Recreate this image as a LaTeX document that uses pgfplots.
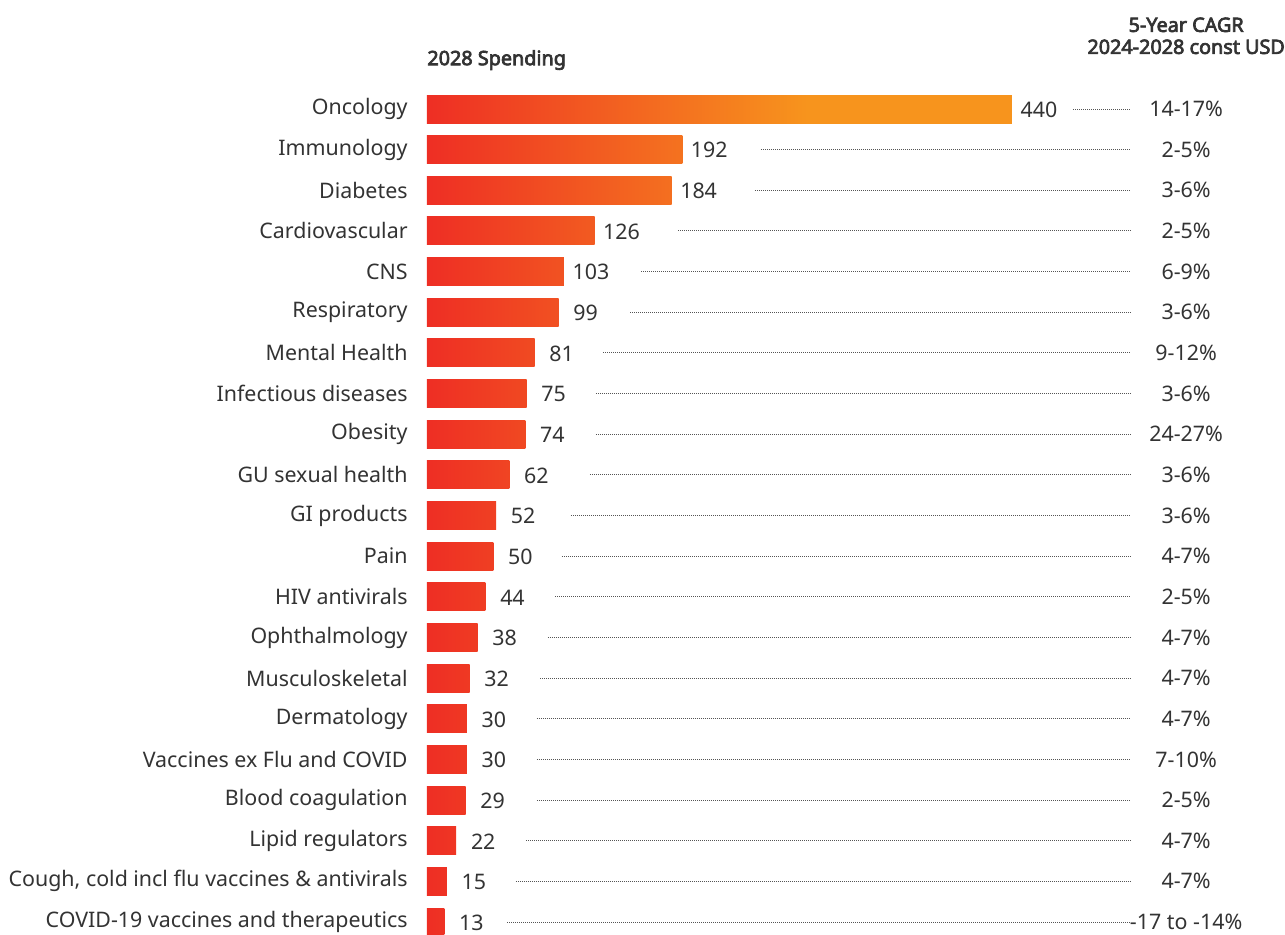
\documentclass[border=0pt]{standalone}
\usepackage{pgfplots}
\usepackage{pgfplotstable}
\pgfplotsset{compat=1.18}
\usepackage{fontspec}
\setmainfont{Noto Sans}
\newfontfamily\hdrfont{Noto Sans}[FakeBold=3.5]
\definecolor{cred}{HTML}{EE2E24}
\definecolor{corange}{HTML}{F7941D}
\definecolor{ctext}{HTML}{333333}
\definecolor{cdot}{HTML}{555555}
\pgfdeclarehorizontalshading{onc}{100bp}{color(0bp)=(cred); color(25bp)=(cred); color(57.5bp)=(corange); color(100bp)=(corange)}
\newcommand\lbl{\fontsize{10.7bp}{13bp}\selectfont}
\newcommand\hdr{\hdrfont\fontsize{9.9bp}{11bp}\selectfont}

\pgfplotstableread[col sep=semicolon]{
y;val;cagr;ds
0;440;14-17\%;485.9
1;192;2-5\%;251.2
2;184;3-6\%;246.7
3;126;2-5\%;188.8
4;103;6-9\%;161.0
5;99;3-6\%;152.7
6;81;9-12\%;132.4
7;75;3-6\%;127.1
8;74;24-27\%;127.1
9;62;3-6\%;122.6
10;52;3-6\%;108.3
11;50;4-7\%;101.5
12;44;2-5\%;96.3
13;38;4-7\%;91.0
14;32;4-7\%;85.0
15;30;4-7\%;82.7
16;30;7-10\%;82.7
17;29;2-5\%;82.7
18;22;4-7\%;74.5
19;15;4-7\%;66.9
20;13;-17 to -14\%;60.2
}\data

\begin{document}
\begin{tikzpicture}
\path[use as bounding box] (-213.5bp,-6.5bp) rectangle (429bp,461bp);
\begin{axis}[
  at={(0,0)}, anchor=south west,
  scale only axis,
  width=292.5bp, height=406.5bp,
  xmin=0, xmax=440, ymin=0, ymax=20,
  y dir=reverse,
  clip=false,
  axis x line=none,
  axis y line*=left,
  y axis line style={draw=none},
  ytick={0,...,20},
  yticklabels={Oncology,Immunology,Diabetes,Cardiovascular,CNS,Respiratory,Mental Health,Infectious diseases,Obesity,GU sexual health,GI products,Pain,HIV antivirals,Ophthalmology,Musculoskeletal,Dermatology,Vaccines ex Flu and COVID,Blood coagulation,Lipid regulators,{Cough, cold incl flu vaccines \& antivirals},COVID-19 vaccines and therapeutics},
  yticklabel style={anchor=east, inner sep=0pt, xshift=-9.5bp, font=\lbl, text=ctext},
  major tick length=0pt,
  ytick style={draw=none},
  mybar/.style={xbar, bar width=14bp, bar shift=0pt, draw=none},
  unbounded coords=jump,
]
\addplot[mybar, shade, shading=onc] coordinates {(440,0)};
\addplot[mybar, left color=cred, right color=corange!67!cred] coordinates {(192,1)};
\addplot[mybar, left color=cred, right color=corange!64!cred] coordinates {(184,2)};
\addplot[mybar, left color=cred, right color=corange!44!cred] coordinates {(126,3)};
\addplot[mybar, left color=cred, right color=corange!36!cred] coordinates {(103,4)};
\addplot[mybar, left color=cred, right color=corange!34!cred] coordinates {(99,5)};
\addplot[mybar, left color=cred, right color=corange!28!cred] coordinates {(81,6)};
\addplot[mybar, left color=cred, right color=corange!26!cred] coordinates {(75,7)};
\addplot[mybar, left color=cred, right color=corange!26!cred] coordinates {(74,8)};
\addplot[mybar, left color=cred, right color=corange!22!cred] coordinates {(62,9)};
\addplot[mybar, left color=cred, right color=corange!18!cred] coordinates {(52,10)};
\addplot[mybar, left color=cred, right color=corange!17!cred] coordinates {(50,11)};
\addplot[mybar, left color=cred, right color=corange!15!cred] coordinates {(44,12)};
\addplot[mybar, left color=cred, right color=corange!13!cred] coordinates {(38,13)};
\addplot[mybar, left color=cred, right color=corange!11!cred] coordinates {(32,14)};
\addplot[mybar, left color=cred, right color=corange!10!cred] coordinates {(30,15)};
\addplot[mybar, left color=cred, right color=corange!10!cred] coordinates {(30,16)};
\addplot[mybar, left color=cred, right color=corange!10!cred] coordinates {(29,17)};
\addplot[mybar, left color=cred, right color=corange!8!cred] coordinates {(22,18)};
\addplot[mybar, left color=cred, right color=corange!5!cred] coordinates {(15,19)};
\addplot[mybar, left color=cred, right color=corange!5!cred] coordinates {(13,20)};
% value labels
\addplot[draw=none, mark=none, point meta=explicit symbolic, nodes near coords,
  every node near coord/.append style={anchor=center, xshift=13.5bp, yshift=-0.3bp, font=\lbl, text=ctext, inner sep=0pt}]
  table[x=val, y=y, meta=val] {\data};
% CAGR labels
\addplot[draw=none, mark=none, point meta=explicit symbolic, nodes near coords,
  every node near coord/.append style={anchor=center, font=\lbl, text=ctext, inner sep=0pt}]
  table[x expr=571, y=y, meta=cagr] {\data};
% leader lines
\addplot[cdot, line width=0.5bp, dash pattern=on 0.5bp off 0.5bp] coordinates {
(485.9,0) (528.8,0) (nan,nan)
(251.2,1) (528.8,1) (nan,nan)
(246.7,2) (528.8,2) (nan,nan)
(188.8,3) (528.8,3) (nan,nan)
(161.0,4) (528.8,4) (nan,nan)
(152.7,5) (528.8,5) (nan,nan)
(132.4,6) (528.8,6) (nan,nan)
(127.1,7) (528.8,7) (nan,nan)
(127.1,8) (528.8,8) (nan,nan)
(122.6,9) (528.8,9) (nan,nan)
(108.3,10) (528.8,10) (nan,nan)
(101.5,11) (528.8,11) (nan,nan)
(96.3,12) (528.8,12) (nan,nan)
(91.0,13) (528.8,13) (nan,nan)
(85.0,14) (528.8,14) (nan,nan)
(82.7,15) (528.8,15) (nan,nan)
(82.7,16) (528.8,16) (nan,nan)
(82.7,17) (528.8,17) (nan,nan)
(74.5,18) (528.8,18) (nan,nan)
(66.9,19) (528.8,19) (nan,nan)
(60.2,20) (528.8,20)
};
% headers
\node[anchor=west, font=\hdr, text=ctext, inner sep=0pt] at (axis cs:0,-1.205) {2028 Spending};
\node[anchor=center, align=center, font=\hdr, text=ctext, inner sep=0pt] at (axis cs:571,-1.80) {5-Year CAGR\\2024-2028 const USD};
\end{axis}
\end{tikzpicture}
\end{document}
